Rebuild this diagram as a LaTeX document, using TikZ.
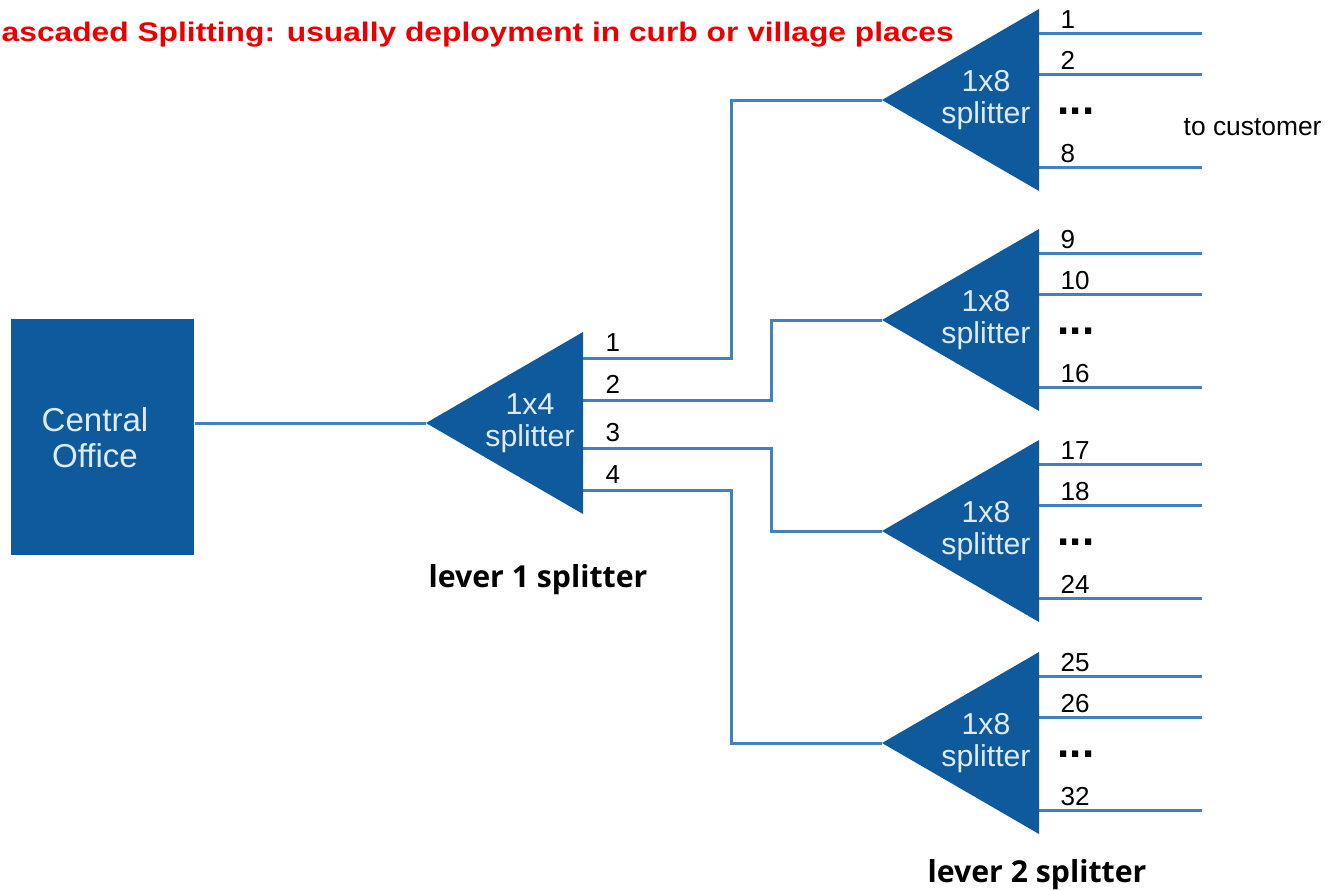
\documentclass[tikz,border=0pt]{standalone}
\usepackage{fontspec}
\setmainfont{Liberation Sans}
\newfontfamily\titlefont{Liberation Sans}[FakeStretch=1.18]
\newfontfamily\levelfont{Open Sans}
\definecolor{splitblue}{RGB}{14,90,156}
\definecolor{fiberblue}{RGB}{66,128,190}
\definecolor{boxtext}{RGB}{222,234,246}
\definecolor{titlered}{RGB}{234,0,0}

\begin{document}
\begin{tikzpicture}[x=0.01cm,y=-0.01cm,
    fiber/.style={draw=fiberblue,line width=0.85pt},
    splitter/.style={fill=splitblue},
    splittext/.style={text=boxtext,align=center,inner sep=0pt,
      font=\fontsize{8.6}{9.2}\selectfont},
    portno/.style={anchor=base west,inner sep=0pt,
      font=\fontsize{7.4}{8}\selectfont},
    moredots/.style={anchor=base west,inner sep=0pt,
      font=\fontsize{12.5}{12}\bfseries},
    levellabel/.style={anchor=base,inner sep=0pt,
      font=\levelfont\fontsize{8.6}{10}\bfseries}]
  \useasboundingbox (0,0) rectangle (1328,890);
  \node[anchor=base west,inner sep=0pt,text=titlered,
    font=\titlefont\fontsize{7.65}{8}\bfseries] (title) at (1,41)
    {ascaded Splitting: usually deployment in curb or village places};
  % central office
  \node[fill=splitblue,minimum width=1.83cm,minimum height=2.36cm]
    (co) at (102.5,437) {};
  \node[text=boxtext,align=center,inner sep=0pt,
    font=\fontsize{9.4}{10.2}\selectfont] (cotxt) at (95,438) {Central\\Office};
  % level 1
  \fill[splitter] (426,423) -- (583,332) -- (583,514) -- cycle;
  \coordinate (s1in) at (426,423);
  \node[splittext] (s1txt) at (530,423) {1x4\\splitter};
  \draw[fiber] (co.east |- s1in) -- (s1in);
  \foreach \y/\k in {358/1,400/2,448/3,490/4}{
    \coordinate (s1o\k) at (583,\y);
    \node[portno] (s1no\k) at (605,\y-7) {\k};
  }
  \node[levellabel] (lev1) at (538,587) {lever 1 splitter};
  % level 2
  \foreach \y/\a/\b/\c/\n in {100/1/2/8/1,320/9/10/16/2,531/17/18/24/3,743/25/26/32/4}{
    \fill[splitter] (882,\y) -- (1039,\y-91) -- (1039,\y+91) -- cycle;
    \coordinate (sp\n) at (882,\y);
    \node[splittext] (sp\n txt) at (986,\y) {1x8\\splitter};
    \foreach \d/\m in {-67/\a,-26/\b,67/\c}{
      \coordinate (sp\n o\m) at (1039,\y+\d);
      \coordinate (cu\n o\m) at (1202,\y+\d);
      \draw[fiber] (sp\n o\m) -- (cu\n o\m);
      \node[portno] (no\m) at (1060,\y+\d-5) {\m};
    }
    \node[moredots] (dots\n) at (1057,\y+14) {...};
  }
  \draw[fiber] (s1o1) -- ++(148,0) |- (sp1);
  \draw[fiber] (s1o2) -- ++(188,0) |- (sp2);
  \draw[fiber] (s1o3) -- ++(188,0) |- (sp3);
  \draw[fiber] (s1o4) -- ++(148,0) |- (sp4);
  \node[anchor=base west,inner sep=0pt,font=\fontsize{7.5}{8}\selectfont]
    (cust) at (1183,135) {to customer};
  \node[levellabel] (lev2) at (1037,882) {lever 2 splitter};
\end{tikzpicture}
\end{document}
